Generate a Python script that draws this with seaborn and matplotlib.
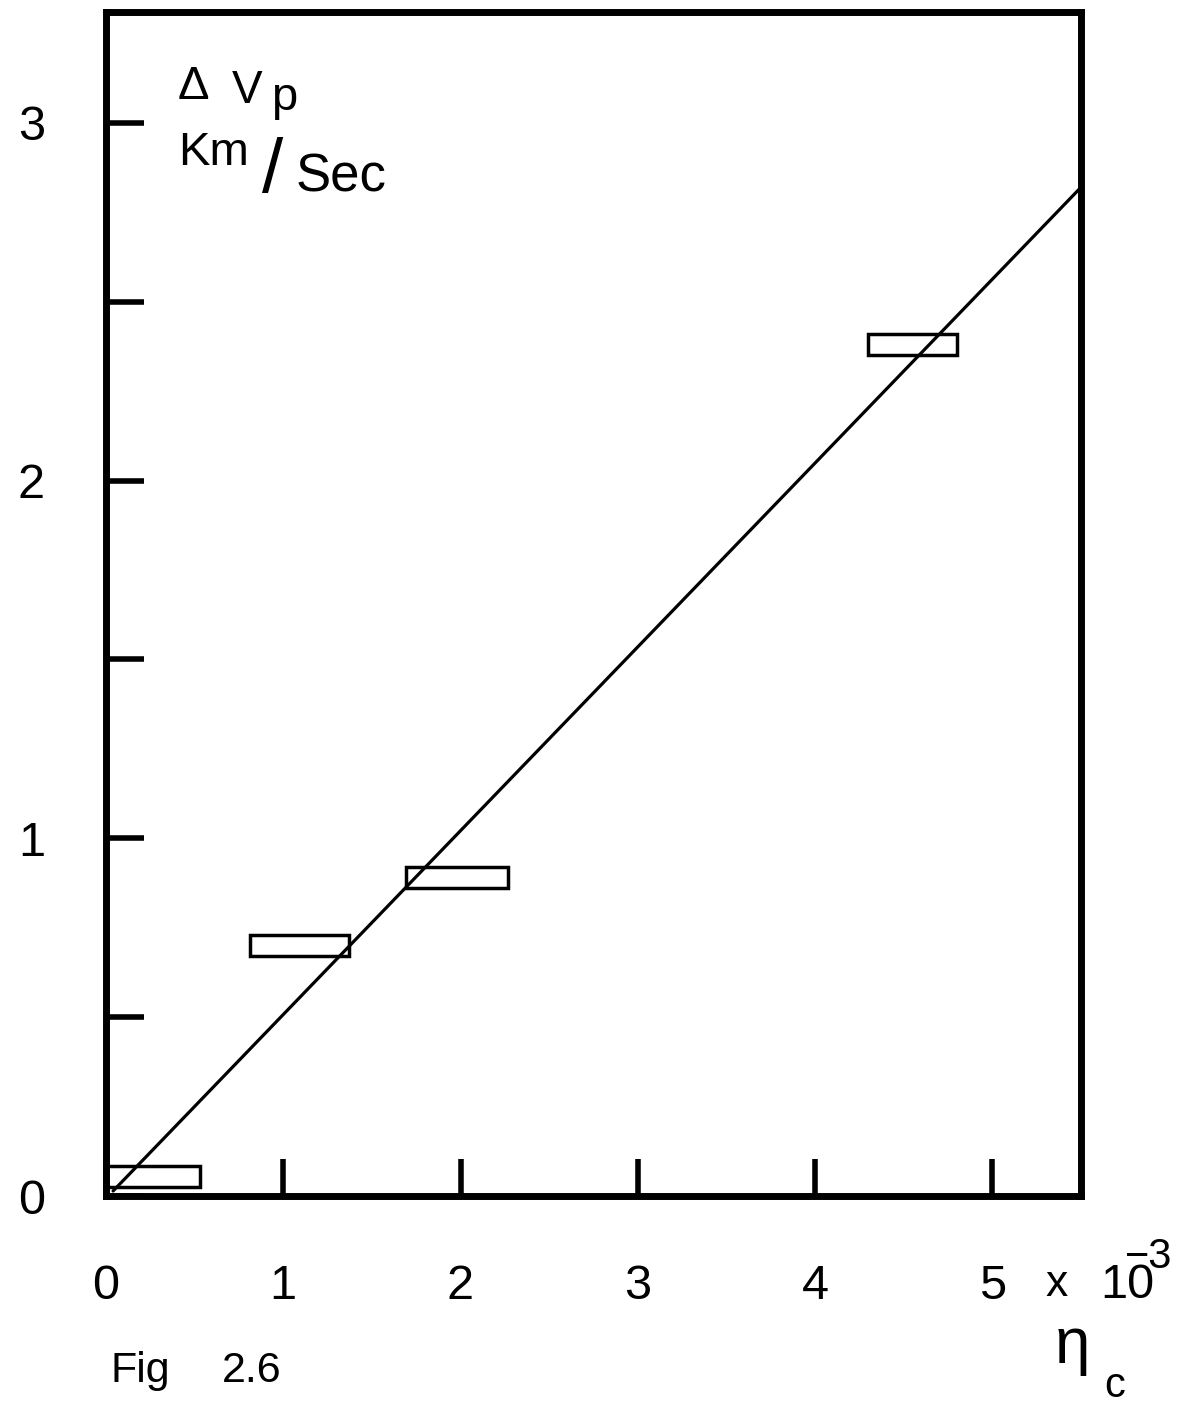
import numpy as np
import pandas as pd
import matplotlib
matplotlib.use("Agg")
import matplotlib.pyplot as plt
import seaborn as sns

# --- data (eta_c in units of 1e-3, dVp in km/s) ---
box_left = [0.00, 0.81, 1.69, 4.30]
box_right = [0.53, 1.37, 2.27, 4.80]
box_center = [0.055, 0.70, 0.89, 2.38]
box_height = 0.058

fit_x = [0.04, 5.50]
fit_y = [0.014, 2.82]

x_ticks = [0, 1, 2, 3, 4, 5]
x_labels = ["0", "1", "2", "3", "4", "5"]
y_ticks = [0, 0.5, 1, 1.5, 2, 2.5, 3]
y_labels = ["0", "", "1", "", "2", "", "3"]

sns.set_theme(style="white")
plt.rcParams["font.family"] = ["Liberation Sans", "DejaVu Sans"]
plt.rcParams["text.color"] = "black"

W, H = 1199, 1410
fig = plt.figure(figsize=(W / 100, H / 100), dpi=100)
ax = fig.add_axes([106 / W, 1 - 1196 / H, 975 / W, 1184 / H])

# measurement boxes
ax.barh(box_center, np.array(box_right) - np.array(box_left), left=box_left,
        height=box_height, fill=False, edgecolor="black", linewidth=2.5, zorder=3)

# straight-line fit
fit = pd.DataFrame({"eta": fit_x, "dv": fit_y})
sns.lineplot(data=fit, x="eta", y="dv", color="black", linewidth=2.3, ax=ax, zorder=4)

ax.set_xlim(0, 5.50)
ax.set_ylim(0, 3.31)
ax.set_xticks(x_ticks)
ax.set_xticklabels(x_labels)
ax.set_yticks(y_ticks)
ax.set_yticklabels(y_labels)
ax.set_xlabel("")
ax.set_ylabel("")
ax.tick_params(axis="both", direction="in", length=27, width=4, color="black",
               labelsize=35, labelcolor="black", bottom=True, left=True)
ax.tick_params(axis="x", pad=49)
ax.tick_params(axis="y", pad=44)
for s in ax.spines.values():
    s.set_visible(True)
    s.set_color("black")
    s.set_linewidth(5)


def put(px, py, s, size):
    # place text by pixel position (left edge, baseline) in the figure
    fig.text(px / W, 1 - py / H, s, fontsize=size, ha="left", va="baseline")


# y-axis annotation
put(178, 99, "\u0394", 34)
put(232, 103, "V", 33)
put(271, 110, "p", 34)
put(178, 165, "Km", 34)
put(262, 192, "/", 55)
put(296, 192, "Sec", 38)

# exponent next to the last x tick
put(1045, 1296, "x", 32)
put(1100, 1298, "10", 35)
put(1125, 1268, "\u22123", 30)

# x-axis symbol and figure number
put(1055, 1363, "\u03b7", 46)
put(1104, 1397, "c", 30)
put(110, 1382, "Fig", 31)
put(222, 1382, "2.6", 31)

fig.savefig("out.png", dpi=100, facecolor="white")
